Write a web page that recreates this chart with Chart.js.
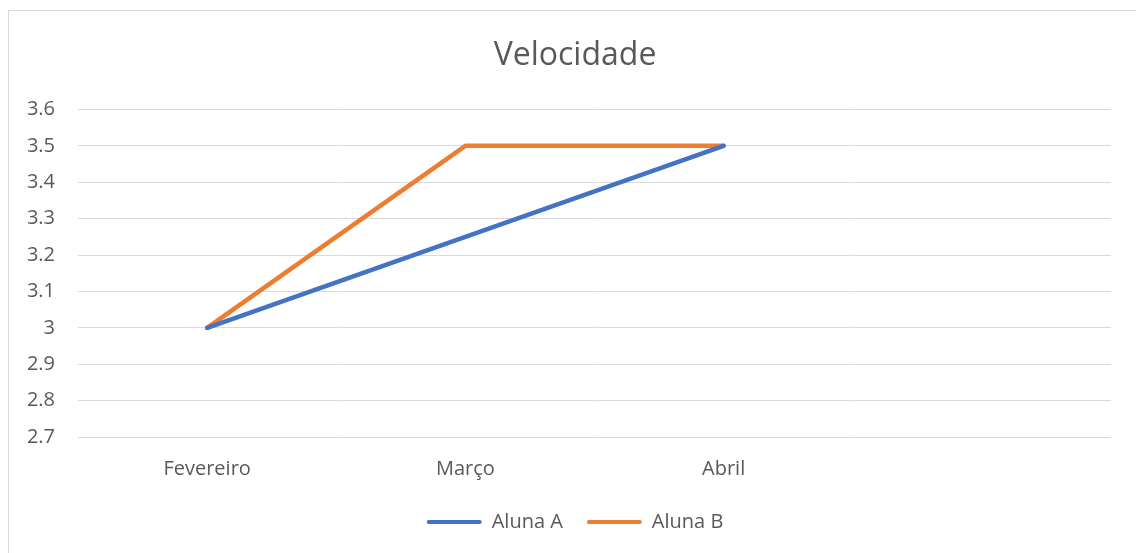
<!DOCTYPE html>
<html><head><meta charset="utf-8">
<script src="https://cdn.jsdelivr.net/npm/chart.js@4"></script>
<style>
html,body{margin:0;padding:0;background:#fff;overflow:hidden}
#frame{position:absolute;left:8px;top:10px;width:1140px;height:560px;border:1px solid #d9d9d9;box-sizing:border-box}
#c{position:absolute;left:0;top:0}
</style></head><body>
<div id="frame"></div>
<canvas id="c" width="1136" height="553"></canvas>
<script>
const categories = ['Fevereiro', 'Março', 'Abril', ''];
const alunaA = [3, 3.25, 3.5, null];
const alunaB = [3, 3.5, 3.5, null];
const yMin = 2.7, yMax = 3.6, yStep = 0.1;
const txt = '#595959';
const fam = '"Open Sans", Lato, sans-serif';
new Chart(document.getElementById('c'), {
  type: 'line',
  data: {
    labels: categories,
    datasets: [
      {label: 'Aluna A', data: alunaA, borderColor: '#4472C4', backgroundColor: '#4472C4', borderWidth: 4.5, pointRadius: 0, borderCapStyle: 'round', borderJoinStyle: 'round', tension: 0},
      {label: 'Aluna B', data: alunaB, borderColor: '#ED7D31', backgroundColor: '#ED7D31', borderWidth: 4.5, pointRadius: 0, borderCapStyle: 'round', borderJoinStyle: 'round', tension: 0}
    ]
  },
  options: {
    responsive: false,
    animation: false,
    events: [],
    layout: {padding: {left: 14, right: 0, top: 0, bottom: 11}},
    plugins: {
      title: {display: true, text: 'Velocidade', color: txt, font: {family: fam, size: 32, weight: 'normal'}, padding: {top: 37, bottom: 34}},
      legend: {position: 'bottom', labels: {color: txt, font: {family: fam, size: 20}, boxWidth: 55, boxHeight: 4, padding: 24,
        generateLabels: (chart) => Chart.defaults.plugins.legend.labels.generateLabels(chart).map(l => Object.assign(l, {lineWidth: 0, borderRadius: 2}))}},
      tooltip: {enabled: false}
    },
    scales: {
      x: {offset: true, grid: {display: false}, border: {display: false},
          afterFit: (s) => { s.height = 51; },
          ticks: {color: txt, font: {family: fam, size: 20}, padding: 12, maxRotation: 0}},
      y: {min: yMin, max: yMax, border: {display: false},
          grid: {color: '#d9d9d9', lineWidth: 1, drawTicks: false},
          afterFit: (s) => { s.width = 64; },
          ticks: {stepSize: yStep, color: txt, font: {family: fam, size: 20}, padding: 23,
                  callback: (v) => String(+Number(v).toFixed(1))}},
      yRight: {position: 'right', min: yMin, max: yMax, border: {display: false},
          grid: {display: false}, ticks: {display: false},
          afterFit: (s) => { s.width = 25; }}
    }
  }
});
</script></body></html>
